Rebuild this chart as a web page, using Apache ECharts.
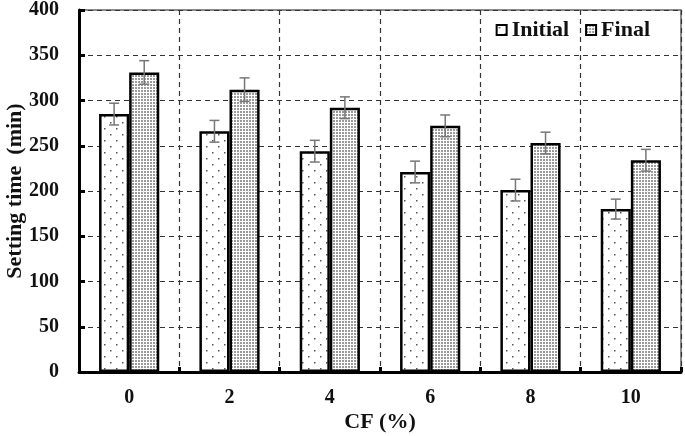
<!DOCTYPE html>
<html><head><meta charset="utf-8">
<script src="https://cdn.jsdelivr.net/npm/echarts@6/dist/echarts.min.js"></script>
<style>html,body{margin:0;padding:0;background:#fff}#c{width:685px;height:436px}</style>
</head><body><div id="c"></div>
<script>
const categories = ['0', '2', '4', '6', '8', '10'];
const initialValues = [285, 266, 244, 221, 201, 180];
const finalValues = [331, 312, 292, 272, 253, 234];
const initialErr = [12, 12, 12, 12, 12, 11];
const finalErr = [13, 13, 12, 12, 12, 12];
const yTicks = [0, 50, 100, 150, 200, 250, 300, 350, 400];

function makePattern(size, bg, dots, dotColor) {
  const cv = document.createElement('canvas');
  cv.width = size; cv.height = size;
  const ctx = cv.getContext('2d');
  ctx.fillStyle = bg; ctx.fillRect(0, 0, size, size);
  ctx.fillStyle = dotColor;
  dots.forEach(d => ctx.fillRect(d[0], d[1], d[2] || 1, d[3] || 1));
  return cv;
}
const initPat = makePattern(12, '#ffffff', [[2, 2, 1.5, 1.5], [8, 8, 1.5, 1.5]], '#555');
const finalPat = makePattern(3, '#ffffff', [[0, 0, 2, 2]], '#9a9a9a');

const FONT = '"Liberation Serif", "Times New Roman", serif';
const chart = echarts.init(document.getElementById('c'));

function errSeries(name, vals, errs, idx) {
  return {
    type: 'custom',
    name: name + ' err',
    z: 10,
    data: vals.map((v, i) => [i, v, errs[i]]),
    renderItem: function (params, api) {
      const i = api.value(0);
      const v = api.value(1);
      const e = api.value(2);
      const base = api.coord([i, v]);
      const bw = api.size([1, 0])[0] * 0.6 / 2;
      const x = base[0] + (idx === 0 ? -bw / 2 : bw / 2);
      const hi = api.coord([i, v + e])[1];
      const lo = api.coord([i, v - e])[1];
      const cap = 5;
      const st = { stroke: '#777', lineWidth: 1.5 };
      return { type: 'group', children: [
        { type: 'line', shape: { x1: x, y1: hi, x2: x, y2: lo }, style: st },
        { type: 'line', shape: { x1: x - cap, y1: hi, x2: x + cap, y2: hi }, style: st },
        { type: 'line', shape: { x1: x - cap, y1: lo, x2: x + cap, y2: lo }, style: st }
      ]};
    }
  };
}

chart.setOption({
  animation: false,
  backgroundColor: '#fff',
  grid: { left: 79, right: 4, top: 10, bottom: 64, containLabel: false, outerBoundsMode: 'none',
    show: true, borderColor: '#666', borderWidth: 1.5 },
  legend: {
    data: [{ name: 'Initial', icon: 'rect' }, { name: 'Final', icon: 'rect' }],
    right: 30, top: 14,
    itemWidth: 10, itemHeight: 10, itemGap: 16,
    textStyle: { fontFamily: FONT, fontWeight: 'bold', fontSize: 22, color: '#111' }
  },
  xAxis: {
    type: 'category',
    data: categories,
    name: 'CF (%)',
    nameLocation: 'middle',
    nameGap: 39,
    nameMoveOverlap: false,
    nameTextStyle: { fontFamily: FONT, fontWeight: 'bold', fontSize: 22, color: '#111' },
    axisLine: { lineStyle: { color: '#000', width: 3 } },
    axisTick: { show: true, inside: true, length: 5, lineStyle: { color: '#000', width: 3 } },
    axisLabel: { margin: 16, fontFamily: FONT, fontWeight: 'bold', fontSize: 20, color: '#111' },
    splitLine: { show: true, lineStyle: { color: '#333', type: [5, 4], width: 1.2 } }
  },
  yAxis: {
    type: 'value',
    min: 0, max: 400, interval: 50,
    name: 'Setting time  (min)',
    nameLocation: 'middle',
    nameGap: 53,
    nameMoveOverlap: false,
    nameTextStyle: { fontFamily: FONT, fontWeight: 'bold', fontSize: 22, color: '#111' },
    axisLine: { show: true, lineStyle: { color: '#000', width: 3 } },
    axisTick: { show: true, inside: true, length: 6, lineStyle: { color: '#000', width: 3 } },
    axisLabel: { margin: 20, fontFamily: FONT, fontWeight: 'bold', fontSize: 20, color: '#111',
      formatter: v => yTicks.indexOf(v) >= 0 ? String(v) : '' },
    splitLine: { show: true, lineStyle: { color: '#333', type: [5, 4], width: 1.2 } }
  },
  series: [
    { type: 'bar', name: 'Initial', data: initialValues, barGap: '0%', barCategoryGap: '40%',
      itemStyle: { color: { image: initPat, repeat: 'repeat' }, borderColor: '#000', borderWidth: 2.5 } },
    { type: 'bar', name: 'Final', data: finalValues, barGap: '0%', barCategoryGap: '40%',
      itemStyle: { color: { image: finalPat, repeat: 'repeat' }, borderColor: '#000', borderWidth: 2.5 } },
    errSeries('Initial', initialValues, initialErr, 0),
    errSeries('Final', finalValues, finalErr, 1)
  ]
});
</script></body></html>
